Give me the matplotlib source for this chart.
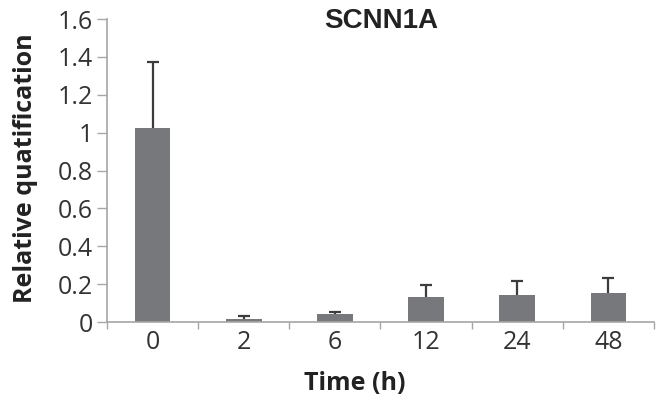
import numpy as np
import matplotlib
matplotlib.use("Agg")
import matplotlib.pyplot as plt

# data
times = ['0', '2', '6', '12', '24', '48']
means = [1.027, 0.017, 0.042, 0.130, 0.144, 0.153]
errs = [0.348, 0.016, 0.012, 0.067, 0.074, 0.079]
yticks = [0, 0.2, 0.4, 0.6, 0.8, 1, 1.2, 1.4, 1.6]
ytick_labels = ['0', '0.2', '0.4', '0.6', '0.8', '1', '1.2', '1.4', '1.6']

axis_col = '#a6a6a6'

fig = plt.figure(figsize=(6.61, 4.0), dpi=100)
ax = fig.add_axes([107 / 661, 1 - 322 / 400, (654 - 107) / 661, (322 - 19) / 400])

x = np.arange(len(times))
ax.bar(x, means, width=0.39, color='#77787b', zorder=2)
# upward-only error bars
eb = ax.errorbar(x, means, yerr=[np.zeros(len(errs)), errs], fmt='none',
                 ecolor='#3c3c3c', elinewidth=1.6, capsize=4, capthick=1.6, zorder=3)
eb[1][0].set_visible(False)  # hide lower caps

ax.set_xlim(-0.5, len(times) - 0.5)
ax.set_ylim(0, 1.6)

ax.set_yticks(yticks)
ax.set_yticklabels(ytick_labels, fontfamily='Open Sans', fontsize=18, color='#333333')
ax.tick_params(axis='y', length=7, width=1, color=axis_col, pad=3)

ax.set_xticks(x)
ax.set_xticklabels(times, fontfamily='Open Sans', fontsize=18, color='#333333')
ax.tick_params(axis='x', which='major', length=0, pad=6)
ax.set_xticks(np.arange(-0.5, len(times), 1.0), minor=True)
ax.tick_params(axis='x', which='minor', length=5, width=1, color=axis_col)

for s in ['top', 'right']:
    ax.spines[s].set_visible(False)
for s in ['left', 'bottom']:
    ax.spines[s].set_color(axis_col)
    ax.spines[s].set_linewidth(1.2)

fig.text(381 / 661, 1 - 21 / 400, 'SCNN1A', ha='center', va='center',
         fontfamily='Liberation Sans', fontweight='bold', fontsize=20, color='#222222')
fig.text(26 / 661, 1 - 168 / 400, 'Relative quatification', rotation=90,
         ha='center', va='center', fontfamily='Open Sans', fontweight='bold',
         fontsize=18, color='#222222')
fig.text(355 / 661, 1 - 384 / 400, 'Time (h)', ha='center', va='center',
         fontfamily='Open Sans', fontweight='bold', fontsize=18, color='#222222')

fig.savefig('out.png', dpi=100)
